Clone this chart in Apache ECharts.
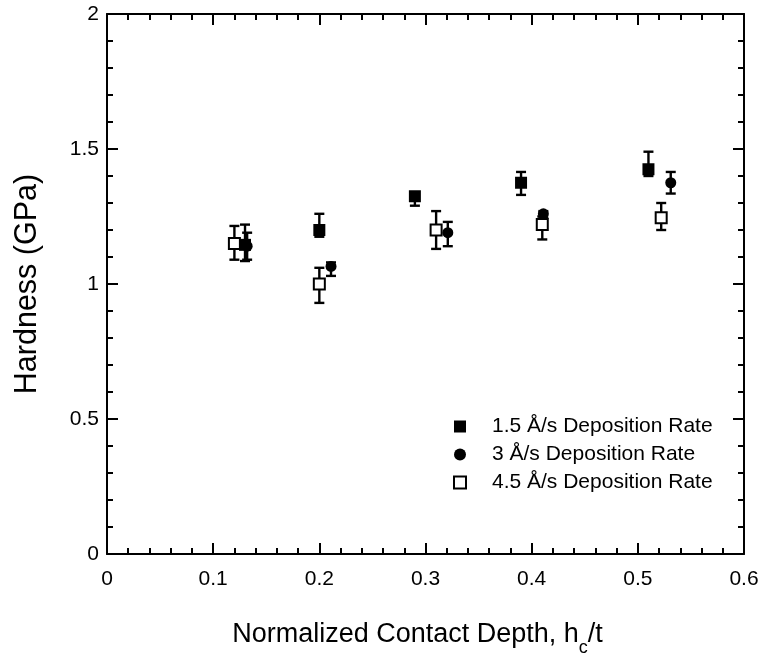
<!DOCTYPE html>
<html>
<head>
<meta charset="utf-8">
<script src="https://cdn.jsdelivr.net/npm/echarts@6/dist/echarts.min.js"></script>
<style>html,body{margin:0;padding:0;background:#fff}#c{width:765px;height:657px}</style>
</head>
<body>
<div id="c"></div>
<script>
// Data
var seriesNames = ['1.5 Å/s Deposition Rate', '3 Å/s Deposition Rate', '4.5 Å/s Deposition Rate'];
var xTicks = [0, 0.1, 0.2, 0.3, 0.4, 0.5, 0.6];
var yTicks = [0, 0.5, 1, 1.5, 2];

var s1x = [0.13, 0.20, 0.29, 0.39, 0.51];
var s1y = [1.145, 1.20, 1.325, 1.375, 1.425];
var s1lo = [1.085, 1.175, 1.29, 1.33, 1.40];
var s1hi = [1.22, 1.26, 1.34, 1.415, 1.49];

var s2x = [0.132, 0.211, 0.321, 0.411, 0.531];
var s2y = [1.14, 1.065, 1.19, 1.26, 1.375];
var s2lo = [1.09, 1.03, 1.14, 1.245, 1.335];
var s2hi = [1.19, 1.08, 1.23, 1.27, 1.415];

var s3x = [0.12, 0.20, 0.31, 0.41, 0.522];
var s3y = [1.15, 1.00, 1.20, 1.22, 1.245];
var s3lo = [1.09, 0.93, 1.13, 1.165, 1.20];
var s3hi = [1.215, 1.06, 1.27, 1.25, 1.30];

function pts(xs, ys) { return xs.map(function (x, i) { return [x, ys[i]]; }); }
function errs(xs, lo, hi) { return xs.map(function (x, i) { return [x, lo[i], hi[i]]; }); }

function errRender(params, api) {
  var x = api.value(0), lo = api.value(1), hi = api.value(2);
  var pLo = api.coord([x, lo]), pHi = api.coord([x, hi]);
  var w = 5;
  var st = { stroke: '#000', lineWidth: 2.4 };
  return {
    type: 'group',
    children: [
      { type: 'line', shape: { x1: pLo[0], y1: pLo[1], x2: pHi[0], y2: pHi[1] }, style: st },
      { type: 'line', shape: { x1: pLo[0] - w, y1: pLo[1], x2: pLo[0] + w, y2: pLo[1] }, style: st },
      { type: 'line', shape: { x1: pHi[0] - w, y1: pHi[1], x2: pHi[0] + w, y2: pHi[1] }, style: st }
    ]
  };
}

var FONT = '"Liberation Sans", Arial, sans-serif';
var chart = echarts.init(document.getElementById('c'), null, { renderer: 'canvas' });

var axisLine = { show: true, onZero: false, lineStyle: { color: '#000', width: 2 } };
var majorTick = { show: true, inside: true, length: 11, lineStyle: { color: '#000', width: 2 } };
var minorTick = { show: true, splitNumber: 5, length: 6, lineStyle: { color: '#000', width: 2 } };

var option = {
  animation: false,
  backgroundColor: '#fff',
  grid: { left: 107, right: 21, top: 14, bottom: 103, containLabel: false, outerBoundsMode: 'none' },
  xAxis: [{
    type: 'value', min: 0, max: 0.6, interval: 0.1, position: 'bottom',
    axisLine: axisLine, axisTick: majorTick, minorTick: minorTick,
    splitLine: { show: false },
    axisLabel: { color: '#000', fontSize: 21, fontFamily: FONT, margin: 15,
      formatter: function (v) { return xTicks.indexOf(Math.round(v * 10) / 10) >= 0 ? String(Math.round(v * 10) / 10) : ''; } },
    name: 'Normalized Contact Depth, h{sub|c}/t', nameLocation: 'middle', nameGap: 59,
    nameTextStyle: { color: '#000', fontSize: 27, fontFamily: FONT, padding: [0, 16, 0, 0],
      rich: { sub: { fontSize: 18, fontFamily: FONT, color: '#000', padding: [26, 0, 0, 0] } } }
  }, {
    type: 'value', min: 0, max: 0.6, interval: 0.1, position: 'top',
    axisLine: axisLine, axisTick: majorTick, minorTick: minorTick,
    splitLine: { show: false }, axisLabel: { show: false }
  }],
  yAxis: [{
    type: 'value', min: 0, max: 2, interval: 0.5, position: 'left',
    axisLine: axisLine, axisTick: majorTick, minorTick: minorTick,
    splitLine: { show: false },
    axisLabel: { color: '#000', fontSize: 21, fontFamily: FONT, margin: 8,
      formatter: function (v) { return yTicks.indexOf(v) >= 0 ? String(v) : ''; } },
    name: 'Hardness (GPa)', nameLocation: 'middle', nameGap: 64,
    nameTextStyle: { color: '#000', fontSize: 30.5, fontFamily: FONT }
  }, {
    type: 'value', min: 0, max: 2, interval: 0.5, position: 'right',
    axisLine: axisLine, axisTick: majorTick, minorTick: minorTick,
    splitLine: { show: false }, axisLabel: { show: false }
  }],
  legend: {
    orient: 'vertical', left: 448, top: 411, itemGap: 7, itemWidth: 12, itemHeight: 12,
    data: [
      { name: seriesNames[0], icon: 'rect' },
      { name: seriesNames[1], icon: 'circle' },
      { name: seriesNames[2], icon: 'rect' }
    ],
    textStyle: { color: '#000', fontSize: 21, fontFamily: FONT, padding: [0, 0, 0, 21] }
  },
  series: [
    { type: 'custom', renderItem: errRender, data: errs(s1x, s1lo, s1hi), z: 1, silent: true, encode: { x: 0, y: [1, 2] } },
    { type: 'custom', renderItem: errRender, data: errs(s2x, s2lo, s2hi), z: 1, silent: true, encode: { x: 0, y: [1, 2] } },
    { type: 'custom', renderItem: errRender, data: errs(s3x, s3lo, s3hi), z: 1, silent: true, encode: { x: 0, y: [1, 2] } },
    { name: seriesNames[2], type: 'scatter', data: pts(s3x, s3y), symbol: 'rect', symbolSize: 11, z: 3,
      itemStyle: { color: '#fff', borderColor: '#000', borderWidth: 2, opacity: 1 } },
    { name: seriesNames[1], type: 'scatter', data: pts(s2x, s2y), symbol: 'circle', symbolSize: 11, z: 4,
      itemStyle: { color: '#000', opacity: 1 } },
    { name: seriesNames[0], type: 'scatter', data: pts(s1x, s1y), symbol: 'rect', symbolSize: 12, z: 5,
      itemStyle: { color: '#000', opacity: 1 } }
  ]
};
chart.setOption(option);
</script>
</body>
</html>
